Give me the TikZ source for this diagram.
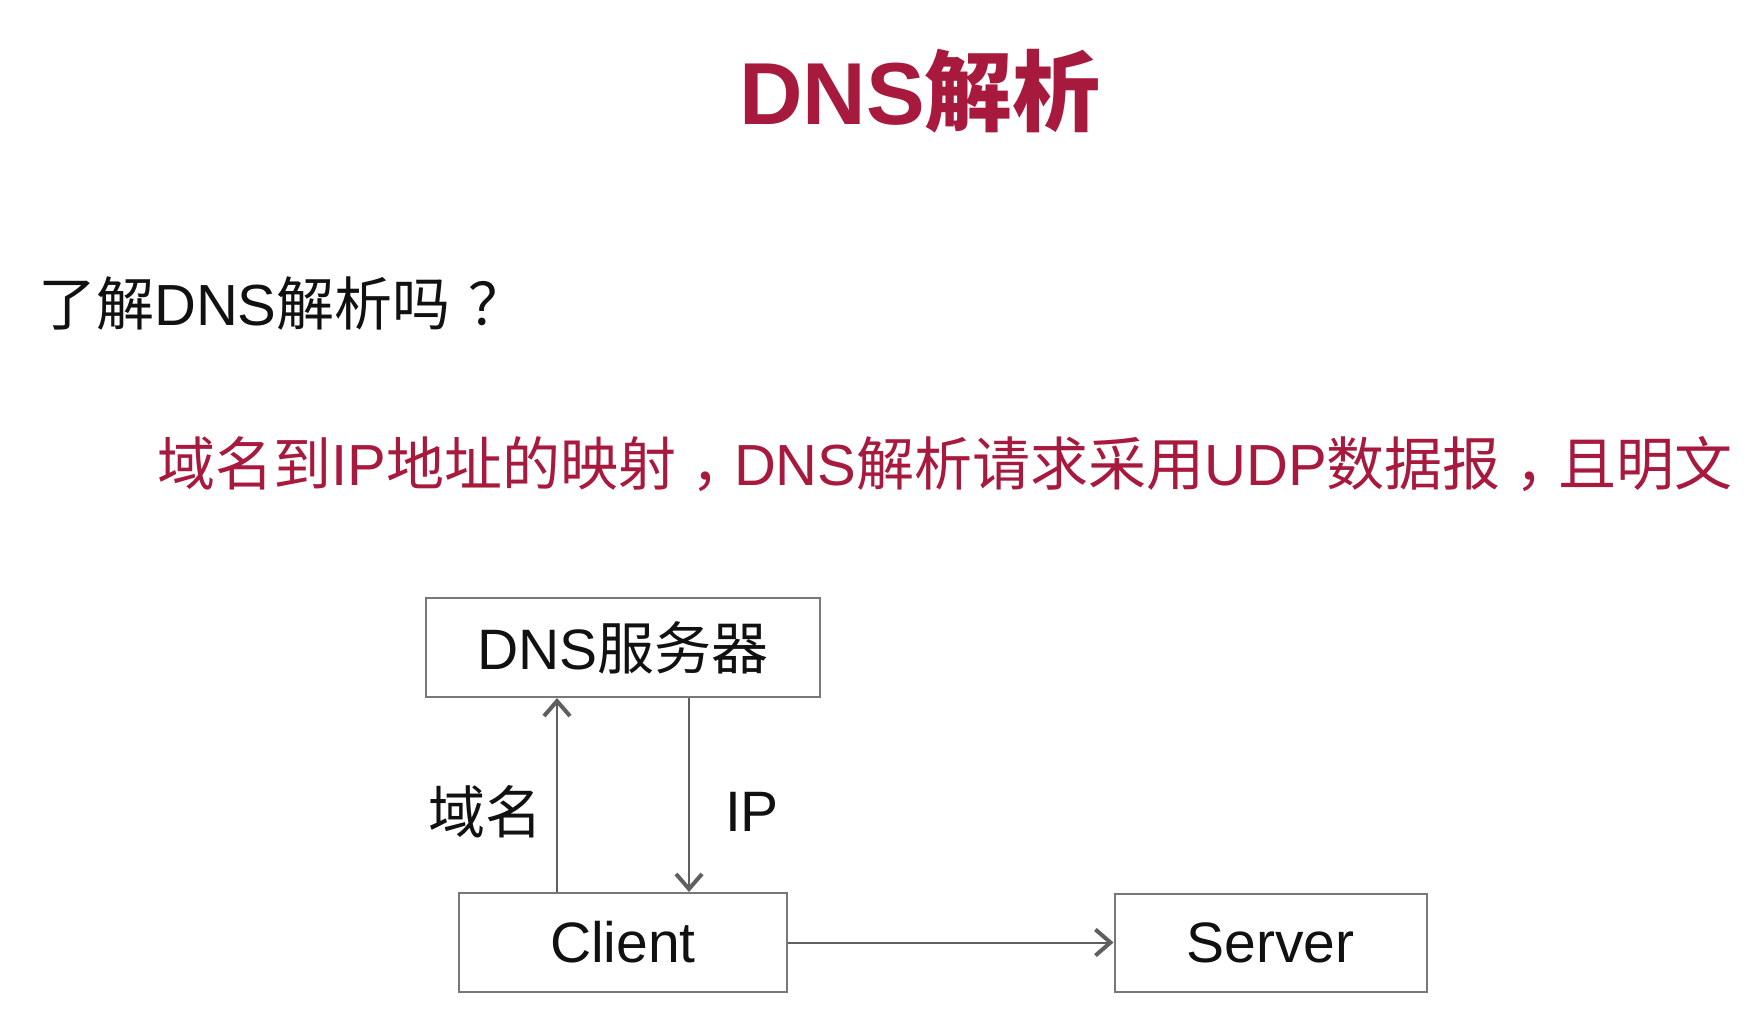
\documentclass[tikz,border=0pt]{standalone}
\usepackage{fontspec}
\setmainfont{Liberation Sans}
\newfontfamily\cjk{Noto Sans CJK SC}
\usetikzlibrary{arrows.meta}
\definecolor{titlered}{RGB}{168,25,62}
\definecolor{linegrey}{RGB}{95,95,95}
\definecolor{boxgrey}{RGB}{120,120,120}
\definecolor{inkc}{RGB}{17,17,17}
\newcommand\fwcomma{\hspace{0.26em}{\cjk ，}\hspace{-0.26em}}
\newcommand\fwquest{\hspace{0.3em}{\cjk ？}}
\begin{document}
\begin{tikzpicture}[x=1pt,y=-1pt,
  boxnode/.style={draw=boxgrey,line width=2pt,inner sep=0pt,text=inkc,
    font=\fontsize{57}{60}\selectfont},
  lbl/.style={inner sep=0pt,text=inkc,font=\fontsize{57}{60}\selectfont},
  arr/.style={draw=linegrey,line width=2pt,
    -{Straight Barb[length=15pt,width=26pt,line width=4pt]}},
  bigtext/.style={inner sep=0pt,anchor=base west,font=\fontsize{58}{60}\selectfont}]
\useasboundingbox (0,0) rectangle (1762,1022);
\fill[white] (0,0) rectangle (1762,1022);

\node[inner sep=0pt,anchor=base,text=titlered,font=\fontsize{88}{90}\selectfont\bfseries]
  (title) at (920,125) {DNS{\cjk 解析}};
\node[bigtext,text=inkc] (question) at (38,325) {{\cjk 了解}DNS{\cjk 解析吗}\fwquest};
\node[bigtext,text=titlered] (answer) at (157,485)
  {{\cjk 域名到}IP{\cjk 地址的映射}\fwcomma DNS{\cjk 解析请求采用}UDP{\cjk 数据报}\fwcomma{\cjk 且明文}};

\node[boxnode,minimum width=394pt,minimum height=99pt] (dns) at (623,647.5) {DNS{\cjk 服务器}};
\node[boxnode,minimum width=328pt,minimum height=99pt] (client) at (623,942.5) {Client};
\node[boxnode,minimum width=312pt,minimum height=98pt] (server) at (1270.5,943) {Server};

\coordinate (upx) at (557,0);
\coordinate (downx) at (689,0);
\draw[arr] (upx |- client.north) -- (upx |- dns.south);
\draw[arr] (downx |- dns.south) -- (downx |- client.north);
\draw[arr] (client.east) -- (client.east -| server.west);

\node[lbl] (lname) at (485,812) {\cjk 域名};
\node[lbl] (lip) at (752,812) {IP};
\end{tikzpicture}
\end{document}
